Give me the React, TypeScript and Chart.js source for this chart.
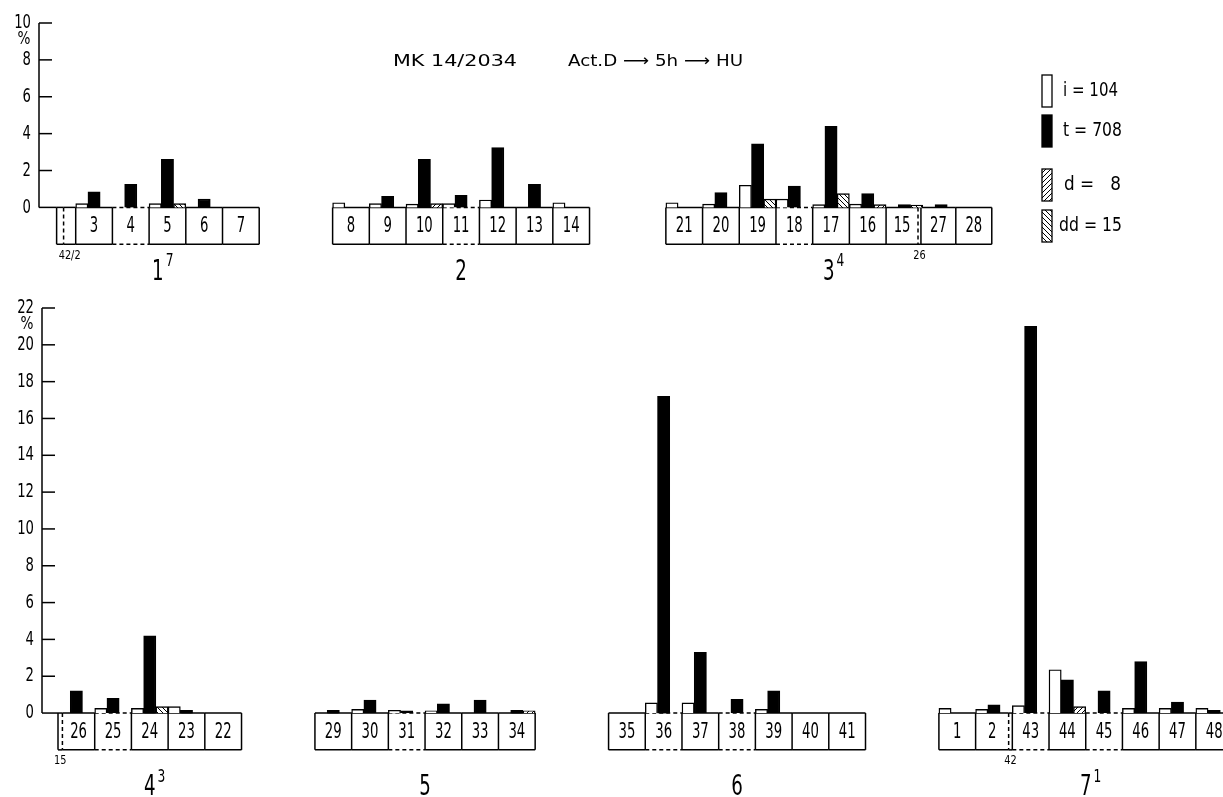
import React, { useEffect, useRef } from 'react';
import { Chart, registerables } from 'chart.js';

Chart.register(...registerables);

const FONT = '"DejaVu Sans", "Liberation Sans", sans-serif';

// ===================== DATA =====================
const seriesNames = ['i', 't', 'd', 'dd'];
const seriesTotals = [104, 708, 8, 15];
const titleLeft = 'MK 14/2034';
const titleRight = 'Act.D \u27F6 5h \u27F6 HU';
const yUnitLabel = '%';

// upper panel (chromosomes 1, 2, 3)
const topYTicks = [0, 2, 4, 6, 8, 10];
const topGroupNames = ['1', '2', '3'];
const topGroupSups = ['7', '', '4'];
const topSliceNotes = ['42/2', '26'];
const topSegLabels = ['3', '4', '5', '6', '7', '8', '9', '10', '11', '12', '13', '14', '21', '20', '19', '18', '17', '16', '15', '27', '28'];
const topI = [0.2, null, 0.2, null, null, 0.25, 0.2, 0.18, 0.2, 0.4, null, 0.25, 0.25, 0.18, 1.2, 0.45, 0.15, 0.18, null, null, null];
const topT = [0.85, 1.25, 2.6, 0.45, null, null, 0.6, 2.6, 0.65, 3.25, 1.25, null, null, 0.8, 3.45, 1.15, 4.4, 0.75, 0.15, 0.15, null];
const topD = [null, null, null, null, null, null, null, 0.2, null, null, null, null, null, null, null, null, null, 0.15, null, null, null];
const topDD = [null, null, 0.2, null, null, null, null, null, null, null, null, null, null, null, 0.45, null, 0.75, null, 0.12, null, null];

// lower panel (chromosomes 4, 5, 6, 7)
const bottomYTicks = [0, 2, 4, 6, 8, 10, 12, 14, 16, 18, 20, 22];
const bottomGroupNames = ['4', '5', '6', '7'];
const bottomGroupSups = ['3', '', '', '1'];
const bottomSliceNotes = ['15', '42'];
const bottomSegLabels = ['26', '25', '24', '23', '22', '29', '30', '31', '32', '33', '34', '35', '36', '37', '38', '39', '40', '41', '1', '2', '43', '44', '45', '46', '47', '48'];
const bottomI = [null, 0.25, 0.25, 0.35, null, null, 0.2, 0.15, 0.12, null, null, null, 0.55, 0.55, null, 0.2, null, null, 0.25, 0.2, 0.4, 2.35, null, 0.25, 0.25, 0.25];
const bottomT = [1.2, 0.8, 4.2, 0.15, null, 0.15, 0.7, 0.12, 0.5, 0.7, 0.15, null, 17.2, 3.3, 0.75, 1.2, null, null, null, 0.45, 21.0, 1.8, 1.2, 2.8, 0.6, 0.15];
const bottomD = [null, null, null, null, null, null, null, null, null, null, 0.12, null, null, null, null, null, null, null, null, null, null, 0.35, null, null, null, null];
const bottomDD = [null, null, 0.35, null, null, null, null, null, null, null, null, null, null, null, null, null, null, null, null, null, null, null, null, null, null, null];

// ===================== LAYOUT (segment widths in box units) =====================
type Seg = { w: number; slice?: boolean; dashed?: boolean; divDashed?: boolean; note?: number };
type Group = { start: number; slot0: number; segs: Seg[] };
const B: Seg = { w: 1 };
const DB: Seg = { w: 1, dashed: true };

const TOP_LAYOUT: Group[] = [
  { start: -0.52, slot0: 0, segs: [{ w: 0.19, slice: true, divDashed: true }, { w: 0.33, slice: true, note: 0 }, B, DB, B, B, B] },
  { start: 7, slot0: 7, segs: [B, B, B, DB, B, B, B] },
  { start: 16.08, slot0: 16.08, segs: [B, B, B, DB, B, B, { w: 0.87, divDashed: true }, { w: 0.08, slice: true, note: 1 }, { w: 0.95 }, { w: 0.98 }] },
];

const BOTTOM_LAYOUT: Group[] = [
  { start: 0, slot0: 0, segs: [{ w: 0.12, slice: true, divDashed: true, note: 0 }, { w: 0.88 }, DB, B, B, B] },
  { start: 7, slot0: 7, segs: [B, B, DB, B, B, B] },
  { start: 15, slot0: 15, segs: [B, DB, B, DB, B, B, B] },
  { start: 24, slot0: 24, segs: [B, { w: 0.9, divDashed: true }, { w: 0.1, slice: true, note: 1 }, DB, B, DB, B, B, B] },
];

type PanelCfg = {
  layout: Group[];
  labels: string[];
  groupNames: string[];
  groupSups: string[];
  notes: string[];
  series: (number | null)[][];
  yTicks: number[];
  yMin: number;
  xMin: number;
  xMax: number;
  axisWidth: number;
  padTop: number;
  height: number;
  groupLabelDy: number;
  legend: boolean;
};

const TOP_CFG: PanelCfg = {
  layout: TOP_LAYOUT, labels: topSegLabels, groupNames: topGroupNames, groupSups: topGroupSups,
  notes: topSliceNotes, series: [topI, topT, topD, topDD], yTicks: topYTicks,
  yMin: -4.48, xMin: -1, xMax: 31.26, axisWidth: 39, padTop: 23, height: 290, groupLabelDy: 28, legend: true,
};

const BOTTOM_CFG: PanelCfg = {
  layout: BOTTOM_LAYOUT, labels: bottomSegLabels, groupNames: bottomGroupNames, groupSups: bottomGroupSups,
  notes: bottomSliceNotes, series: [bottomI, bottomT, bottomD, bottomDD], yTicks: bottomYTicks,
  yMin: -4.56, xMin: -0.436, xMax: 31.74, axisWidth: 42, padTop: 18, height: 507, groupLabelDy: 38, legend: false,
};

function makeHatch(ctx: CanvasRenderingContext2D, dir: number): CanvasPattern | string {
  const n = 5;
  const c = document.createElement('canvas');
  c.width = n;
  c.height = n;
  const g = c.getContext('2d');
  if (!g) return '#888';
  g.fillStyle = '#fff';
  g.fillRect(0, 0, n, n);
  g.strokeStyle = '#000';
  g.lineWidth = 1;
  g.beginPath();
  for (let k = -1; k <= 1; k++) {
    if (dir > 0) {
      g.moveTo(k * n, n);
      g.lineTo(k * n + n, 0);
    } else {
      g.moveTo(k * n, 0);
      g.lineTo(k * n + n, n);
    }
  }
  g.stroke();
  return ctx.createPattern(c, 'repeat') || '#888';
}

function line(ctx: CanvasRenderingContext2D, x0: number, y0: number, x1: number, y1: number, dashed?: boolean) {
  ctx.save();
  ctx.setLineDash(dashed ? [4, 3] : []);
  ctx.beginPath();
  ctx.moveTo(x0, y0);
  ctx.lineTo(x1, y1);
  ctx.stroke();
  ctx.restore();
}

// condensed text (the original lettering is a narrow engineering face)
function txt(ctx: CanvasRenderingContext2D, s: string, x: number, y: number, size: number, align: CanvasTextAlign, sx: number) {
  ctx.save();
  ctx.font = `${size}px ${FONT}`;
  ctx.textBaseline = 'middle';
  ctx.textAlign = align;
  ctx.fillStyle = '#000';
  ctx.translate(x, y);
  ctx.scale(sx, 1);
  ctx.fillText(s, 0, 0);
  ctx.restore();
}

function txtFit(ctx: CanvasRenderingContext2D, s: string, x: number, y: number, size: number, width: number) {
  ctx.save();
  ctx.font = `${size}px ${FONT}`;
  const w = ctx.measureText(s).width || 1;
  ctx.restore();
  txt(ctx, s, x, y, size, 'left', width / w);
}

function barPositions(layout: Group[]): number[] {
  const xs: number[] = [];
  layout.forEach((g) => {
    let k = 0;
    g.segs.forEach((s) => {
      if (!s.slice) {
        xs.push(g.slot0 + k + 0.5);
        k++;
      }
    });
  });
  return xs;
}

function panelPlugin(cfg: PanelCfg, fills: (string | CanvasPattern)[]) {
  return {
    id: 'panelDecor',
    beforeDatasetsDraw(chart: any) {
      const ctx: CanvasRenderingContext2D = chart.ctx;
      const xs = chart.scales.x;
      const ys = chart.scales.y;
      const left = chart.chartArea.left;
      const yMaxTick = cfg.yTicks[cfg.yTicks.length - 1];
      ctx.save();
      ctx.strokeStyle = '#000';
      ctx.fillStyle = '#000';
      ctx.lineWidth = 1.5;
      // y axis line, inward ticks and tick labels
      line(ctx, left, ys.getPixelForValue(0), left, ys.getPixelForValue(yMaxTick));
      ys.ticks.forEach((t: any) => {
        const py = ys.getPixelForValue(t.value);
        const x1 = t.value === 0 ? xs.getPixelForValue(cfg.layout[0].start) : left + 13;
        line(ctx, left, py, x1, py);
        txt(ctx, String(t.value), left - 8, py, 20, 'right', 0.66);
      });
      txt(ctx, yUnitLabel, left - 15, ys.getPixelForValue(yMaxTick) + 17, 17, 'center', 0.8);

      // chromosome segment boxes
      const yTop = ys.getPixelForValue(0);
      const yBot = ys.getPixelForValue(-2);
      const yMid = ys.getPixelForValue(-1);
      let li = 0;
      cfg.layout.forEach((g, gi) => {
        let pos = g.start;
        line(ctx, xs.getPixelForValue(pos), yTop, xs.getPixelForValue(pos), yBot);
        g.segs.forEach((s) => {
          const x0 = xs.getPixelForValue(pos);
          const x1 = xs.getPixelForValue(pos + s.w);
          line(ctx, x0, yTop, x1, yTop, s.dashed);
          line(ctx, x0, yBot, x1, yBot, s.dashed);
          line(ctx, x1, yTop, x1, yBot, s.divDashed);
          if (!s.slice) {
            txt(ctx, cfg.labels[li], (x0 + x1) / 2, yMid + 1, 21, 'center', 0.63);
            li++;
          } else if (s.note !== undefined) {
            txt(ctx, cfg.notes[s.note], (x0 + x1) / 2, yBot + 11, 13, 'center', 0.75);
          }
          pos += s.w;
        });
        // group (chromosome) label
        const cx = xs.getPixelForValue((g.start + pos) / 2);
        const cy = yBot + cfg.groupLabelDy;
        txt(ctx, cfg.groupNames[gi], cx, cy, 28, 'center', 0.65);
        if (cfg.groupSups[gi]) {
          ctx.font = `28px ${FONT}`;
          const w = ctx.measureText(cfg.groupNames[gi]).width * 0.65;
          txt(ctx, cfg.groupSups[gi], cx + w / 2 + 2, cy - 11, 18, 'left', 0.68);
        }
      });
      ctx.restore();
    },
    afterDraw(chart: any) {
      if (!cfg.legend) return;
      const ctx: CanvasRenderingContext2D = chart.ctx;
      ctx.save();
      // title
      txtFit(ctx, titleLeft, 393, 62, 16.5, 124);
      txtFit(ctx, titleRight, 568, 62, 16.5, 175);
      // legend
      const rows = [91, 131, 185, 226];
      const textX = [1063, 1063, 1064, 1059];
      const textW = [55, 59, 57, 63];
      ctx.lineWidth = 1.3;
      ctx.strokeStyle = '#000';
      seriesNames.forEach((name, s) => {
        const cy = rows[s];
        ctx.fillStyle = fills[s] as any;
        ctx.fillRect(1042, cy - 16, 10, 32);
        ctx.strokeRect(1042, cy - 16, 10, 32);
        const pad = String(seriesTotals[s]).length < 2 ? '   ' : ' ';
        txtFit(ctx, `${name} =${pad}${seriesTotals[s]}`, textX[s], cy, 20, textW[s]);
      });
      ctx.restore();
    },
  };
}

function Panel({ cfg }: { cfg: PanelCfg }) {
  const ref = useRef<HTMLCanvasElement>(null);
  useEffect(() => {
    const canvas = ref.current;
    if (!canvas) return;
    const ctx = canvas.getContext('2d') as CanvasRenderingContext2D;
    const fills: (string | CanvasPattern)[] = ['#ffffff', '#000000', makeHatch(ctx, 1), makeHatch(ctx, -1)];
    const stacks = ['i', 't', 'h', 'h'];
    const xs = barPositions(cfg.layout);
    const datasets = cfg.series.map((vals, s) => ({
      label: seriesNames[s],
      data: vals
        .map((v, k) => (v === null ? null : { x: xs[k], y: v }))
        .filter((p) => p !== null),
      backgroundColor: fills[s],
      borderColor: '#000',
      borderWidth: 1.4,
      stack: stacks[s],
      categoryPercentage: 1,
      barPercentage: 1,
    }));
    const chart = new Chart(canvas, {
      type: 'bar',
      data: { datasets: datasets as any },
      options: {
        responsive: false,
        animation: false,
        events: [],
        layout: { padding: { top: cfg.padTop, left: 0, right: 0, bottom: 0 } },
        plugins: {
          legend: { display: false },
          tooltip: { enabled: false },
          title: { display: false },
        },
        scales: {
          x: {
            type: 'linear',
            bounds: 'data',
            offset: false,
            min: cfg.xMin,
            max: cfg.xMax,
            display: false,
            afterBuildTicks: (s: any) => {
              s.ticks = [{ value: cfg.xMin }, { value: cfg.xMax }];
            },
            grid: { display: false, offset: false },
          },
          y: {
            type: 'linear',
            bounds: 'data',
            position: 'left',
            min: cfg.yMin,
            max: cfg.yTicks[cfg.yTicks.length - 1],
            afterBuildTicks: (s: any) => {
              s.ticks = cfg.yTicks.map((v) => ({ value: v }));
            },
            afterFit: (s: any) => {
              s.width = cfg.axisWidth;
              s.paddingTop = 0;
              s.paddingBottom = 0;
            },
            ticks: { display: false },
            grid: { display: false, drawTicks: false },
            border: { display: false },
          },
        },
      } as any,
      plugins: [panelPlugin(cfg, fills) as any],
    });
    return () => chart.destroy();
  }, [cfg]);
  return <canvas ref={ref} width={1223} height={cfg.height} style={{ display: 'block', width: 1223, height: cfg.height }} />;
}

export default function App() {
  useEffect(() => {
    document.body.style.margin = '0';
    document.body.style.background = '#fff';
  }, []);
  return (
    <div style={{ position: 'relative', width: 1223, height: 797, background: '#fff', overflow: 'hidden' }}>
      <Panel cfg={TOP_CFG} />
      <Panel cfg={BOTTOM_CFG} />
    </div>
  );
}
